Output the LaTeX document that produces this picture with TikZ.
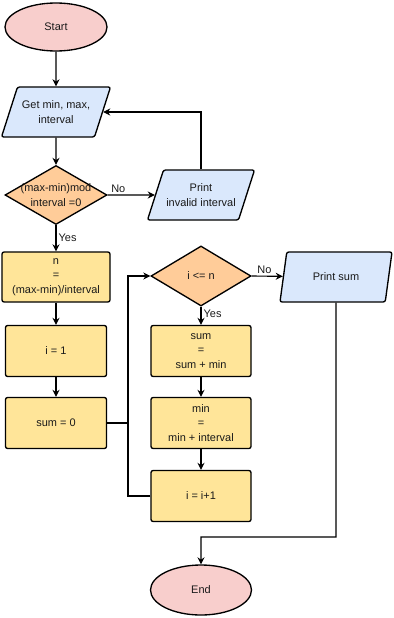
\documentclass[tikz,border=0pt]{standalone}
\usepackage{fontspec}
\setmainfont{Liberation Sans}
\usetikzlibrary{shapes.geometric,arrows.meta,positioning,calc}
\definecolor{startpink}{HTML}{F8CECC}
\definecolor{iopurple}{HTML}{DAE8FC}
\definecolor{decorange}{HTML}{FFCC99}
\definecolor{procyellow}{HTML}{FFE599}
\definecolor{darktext}{HTML}{1A1A1A}

\tikzset{
  base/.style={draw=black, line width=0.95pt, text=darktext, font=\fontsize{7.8}{10.5}\selectfont, align=center, inner sep=1pt},
  terminal/.style={base, ellipse, fill=startpink},
  iobox/.style={base, trapezium, trapezium left angle=58, trapezium right angle=122, trapezium stretches body, rounded corners=1.5pt, fill=iopurple, minimum height=1.25cm},
  decision/.style={base, diamond, fill=decorange, inner sep=0pt},
  procbox/.style={base, rectangle, rounded corners=1.5pt, fill=procyellow, minimum height=1.275cm},
  arr/.style={-{Stealth[length=5pt,width=5pt]}, line width=0.8pt},
  line/.style={line width=0.8pt},
  edgetext/.style={font=\fontsize{7.8}{9}\selectfont, text=darktext, inner sep=1.5pt}
}

\begin{document}
\begin{tikzpicture}[x=0.025cm, y=-0.025cm]
% flowchart: sum of the steps between min and max
\useasboundingbox (0,0) rectangle (394,618);

\node[terminal, minimum width=2.55cm, minimum height=1.2cm] (start) at (56,27) {Start};
\node[iobox, minimum width=2.725cm] (getin) at (56,112) {Get min, max,\\interval};
\node[decision, minimum width=2.55cm, minimum height=1.475cm,
      label={[base, draw=none, inner sep=0pt]center:(max-min)mod\\interval =0}] (check) at (56,195) {};
\node[iobox, minimum width=2.675cm] (invalid) at (201,195) {Print\\invalid interval};

\node[procbox, minimum width=2.7cm, minimum height=1.25cm] (count) at (56,277) {n\\=\\(max-min)/interval};
\node[procbox, minimum width=2.525cm] (initi) at (56,351) {i = 1};
\node[procbox, minimum width=2.525cm] (initsum) at (56,423) {sum = 0};

\node[decision, minimum width=2.5cm, minimum height=1.5cm,
      label={[base, draw=none, inner sep=0pt]center:i <= n}] (loop) at (201,276) {};
\node[iobox, minimum width=2.8cm] (printsum) at (336,277) {Print sum};

\node[procbox, minimum width=2.5cm] (addsum) at (201,351) {sum\\=\\sum + min};
\node[procbox, minimum width=2.5cm] (nextmin) at (201,423) {min\\=\\min + interval};
\node[procbox, minimum width=2.5cm] (inci) at (201,496) {i = i+1};

\node[terminal, minimum width=2.525cm, minimum height=1.25cm] (stop) at (201,590) {End};

\coordinate (bus) at (128,423);
\coordinate (turn) at (336,537);

\draw[arr] (start) -- (getin);
\draw[arr] (getin) -- (check);
\draw[arr] (check.east) -- node[edgetext, pos=0.02, above right] {No} (invalid);
\draw[arr] (invalid.north) |- (getin.east);
\draw[arr] (check.south) -- node[edgetext, right, pos=0.5] {Yes} (count);
\draw[arr] (count) -- (initi);
\draw[arr] (initi) -- (initsum);
\draw[arr] (initsum.east) -- (bus) |- (loop.west);
\draw[line] (inci.west) -| (bus);
\draw[arr] (loop.east) -- node[edgetext, pos=0.1, above right] {No} (printsum);
\draw[arr] (loop.south) -- node[edgetext, right, pos=0.4] {Yes} (addsum);
\draw[arr] (addsum) -- (nextmin);
\draw[arr] (nextmin) -- (inci);
\draw[arr] (printsum.south) -- (turn) -| (stop.north);
\end{tikzpicture}
\end{document}
